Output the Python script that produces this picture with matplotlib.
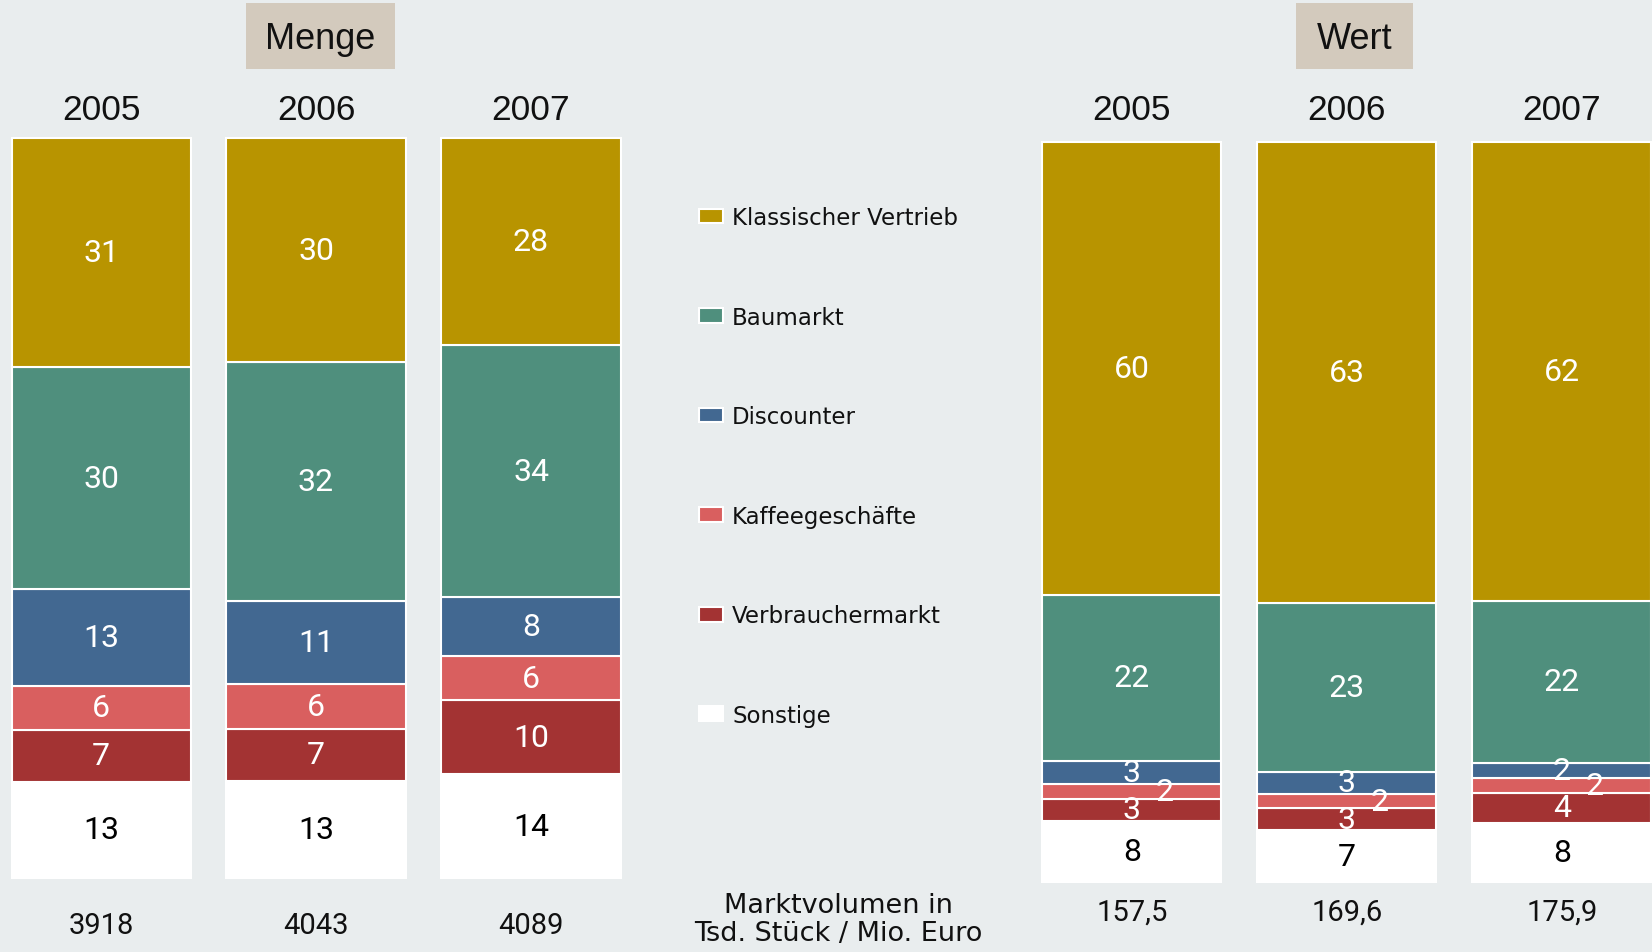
import matplotlib.pyplot as plt
from matplotlib.patches import Rectangle

# data
years = ['2005', '2006', '2007']
channels = ['Klassischer Vertrieb', 'Baumarkt', 'Discounter',
            'Kaffeegeschäfte', 'Verbrauchermarkt', 'Sonstige']
colors = ['#B89400', '#4F8F7D', '#426891', '#D95F5F', '#A33333', '#FFFFFF']

menge_klassisch = [31, 30, 28]
menge_baumarkt = [30, 32, 34]
menge_discounter = [13, 11, 8]
menge_kaffee = [6, 6, 6]
menge_verbraucher = [7, 7, 10]
menge_sonstige = [13, 13, 14]
menge_volumen = ['3918', '4043', '4089']

wert_klassisch = [60, 63, 62]
wert_baumarkt = [22, 23, 22]
wert_discounter = [3, 3, 2]
wert_kaffee = [2, 2, 2]
wert_verbraucher = [3, 3, 4]
wert_sonstige = [8, 7, 8]
wert_volumen = ['157,5', '169,6', '175,9']

bg = '#E9EDEE'
box_col = '#D3CABD'

fig = plt.figure(figsize=(16.52, 9.53), dpi=100)
fig.patch.set_facecolor(bg)
ax = fig.add_axes([0, 0, 1, 1])
ax.set_facecolor(bg)
ax.set_xlim(-0.47, 7.214)
ax.set_ylim(-10.0, 118.8)
ax.axis('off')

width = 0.833
num_font = 'Roboto'


def stacked(xpos, series, base, volumen, vol_y, shift_small=False):
    # stack from bottom: Sonstige ... Klassischer Vertrieb, normalised to 100
    totals = [sum(s[i] for s in series) for i in range(len(xpos))]
    order = list(range(len(series)))[::-1]
    bottoms = [base] * len(xpos)
    handles = {}
    for k in order:
        vals = [series[k][i] / totals[i] * 100 for i in range(len(xpos))]
        bars = ax.bar(xpos, vals, width=width, bottom=bottoms, color=colors[k],
                      edgecolor='white', linewidth=1.5)
        handles[k] = bars
        for i, x in enumerate(xpos):
            yc = bottoms[i] + vals[i] / 2
            dx = 0.15 if (shift_small and k == 3) else 0
            ax.text(x + dx, yc, str(series[k][i]), ha='center', va='center',
                    fontsize=23, family=num_font,
                    color='black' if k == 5 else 'white')
        bottoms = [bottoms[i] + vals[i] for i in range(len(xpos))]
    for i, x in enumerate(xpos):
        ax.text(x, 103.9, years[i], ha='center', va='center', fontsize=25.5,
                family='Liberation Sans', color='#111111')
        ax.text(x, vol_y, volumen[i], ha='center', va='center', fontsize=21,
                family=num_font, color='#111111')
    return handles


menge_x = [0, 1, 2]
wert_x = [4.795, 5.795, 6.795]

h = stacked(menge_x,
            [menge_klassisch, menge_baumarkt, menge_discounter,
             menge_kaffee, menge_verbraucher, menge_sonstige],
            0, menge_volumen, -6.4)
stacked(wert_x,
        [wert_klassisch, wert_baumarkt, wert_discounter,
         wert_kaffee, wert_verbraucher, wert_sonstige],
        -0.5, wert_volumen, -4.6, shift_small=True)

# group titles
for title, cx, bw in [('Menge', 1.02, 0.693), ('Wert', 5.83, 0.545)]:
    ax.add_patch(Rectangle((cx - bw / 2, 109.4), bw, 8.8, facecolor=box_col,
                           edgecolor='none'))
    ax.text(cx, 113.4, title, ha='center', va='center', fontsize=26,
            family='Liberation Sans', color='#111111')

ax.text(3.428, -5.5, 'Marktvolumen in\nTsd. Stück / Mio. Euro', ha='center',
        va='center', fontsize=19.5, family='DejaVu Sans', color='#111111',
        linespacing=1.1)

leg = fig.legend([h[k] for k in range(6)], channels, loc='upper left',
                 bbox_to_anchor=(699 / 1652, 1 - 207 / 953), frameon=False,
                 fontsize=16.5, handlelength=1.05, handleheight=0.62,
                 handletextpad=0.4, labelspacing=3.34, borderpad=0,
                 borderaxespad=0)
for t in leg.get_texts():
    t.set_color('#111111')

fig.savefig('out.png', dpi=100, facecolor=bg)
